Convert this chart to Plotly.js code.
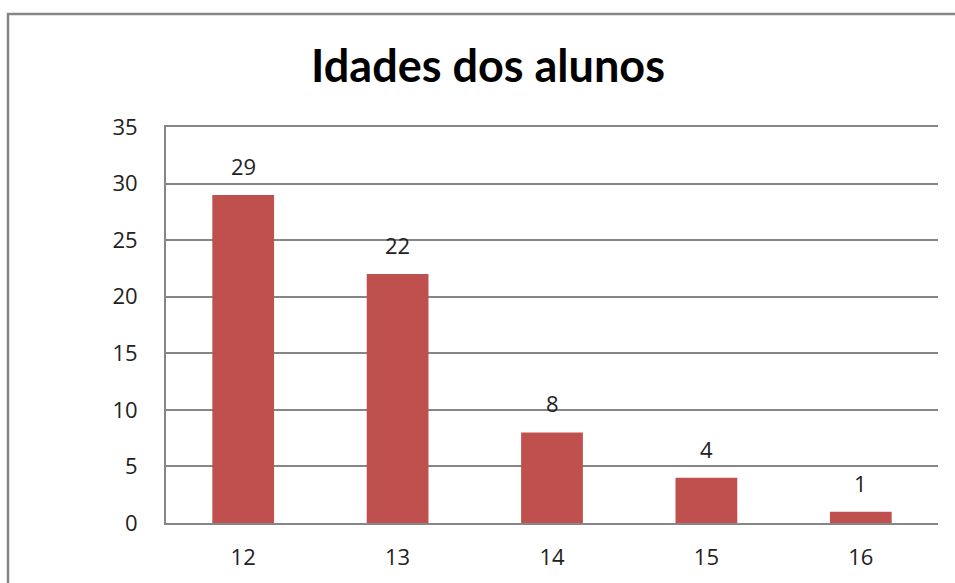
<!DOCTYPE html>
<html>
<head>
<meta charset="utf-8">
<script src="https://cdn.plot.ly/plotly-3.0.1.min.js"></script>
<style>html,body{margin:0;padding:0;background:#fff;}#chart{width:955px;height:583px;}</style>
</head>
<body>
<div id="chart"></div>
<script>
const idades = ['12', '13', '14', '15', '16'];
const alunos = [29, 22, 8, 4, 1];
const titulo = 'Idades dos alunos';

const trace = {
  type: 'bar',
  x: idades,
  y: alunos,
  marker: {color: '#C0504D'},
  hoverinfo: 'x+y'
};

const annotations = idades.map((c, i) => ({
  x: i, y: alunos[i], xref: 'x', yref: 'y',
  text: String(alunos[i]), showarrow: false,
  yanchor: 'bottom', yshift: 12,
  font: {family: 'Open Sans, sans-serif', size: 22, color: '#222'}
}));

const layout = {
  width: 955, height: 583,
  margin: {l: 166, r: 17, t: 127, b: 60},
  paper_bgcolor: '#fff', plot_bgcolor: '#fff',
  showlegend: false,
  bargap: 0.6,
  title: {
    text: '<b>' + titulo + '</b>',
    x: 488/955, xanchor: 'center', xref: 'container',
    y: 1 - 66/583, yanchor: 'middle', yref: 'container',
    font: {family: 'Lato, sans-serif', size: 45, color: '#000'}
  },
  xaxis: {
    type: 'category',
    range: [-0.5, 4.5],
    showgrid: false,
    showline: true, mirror: true, linecolor: '#868686', linewidth: 2,
    ticks: '', ticklabelstandoff: 14,
    tickfont: {family: 'Open Sans, sans-serif', size: 22, color: '#222'}
  },
  yaxis: {
    range: [0, 35], dtick: 5, tick0: 0,
    showgrid: true, gridcolor: '#868686', gridwidth: 2,
    zeroline: false,
    showline: true, linecolor: '#868686', linewidth: 2,
    ticks: '', ticklabelstandoff: 22,
    tickfont: {family: 'Open Sans, sans-serif', size: 22, color: '#222'}
  },
  annotations: annotations,
  shapes: [{
    type: 'rect', xref: 'paper', yref: 'paper',
    x0: (8 - 166) / 772, x1: (990 - 166) / 772,
    y0: -(640 - 523) / 396, y1: 1 + (127 - 14) / 396,
    line: {color: '#868686', width: 2.5}, fillcolor: 'rgba(0,0,0,0)',
    layer: 'above'
  }]
};

Plotly.newPlot('chart', [trace], layout, {displayModeBar: false, staticPlot: true});
</script>
</body>
</html>
